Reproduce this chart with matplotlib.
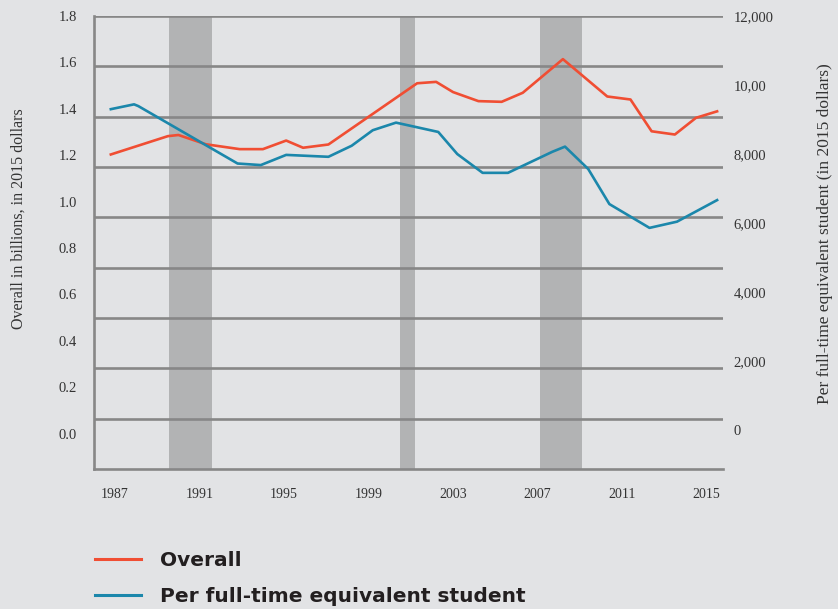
import numpy as np
import matplotlib.pyplot as plt
from matplotlib.lines import Line2D

# Valores (anos fracionários conforme a posição dos vértices)
anos_total = [1986.8, 1989.5, 1990.0, 1991.3, 1992.9, 1994.0, 1995.1, 1995.9, 1997.1,
              2001.3, 2002.2, 2003.0, 2004.2, 2005.3, 2006.3, 2008.2, 2010.3, 2011.4,
              2012.4, 2013.5, 2014.5, 2015.5]
total = [1.203, 1.282, 1.287, 1.247, 1.226, 1.226, 1.263, 1.232, 1.246,
         1.510, 1.516, 1.472, 1.433, 1.430, 1.469, 1.614, 1.453, 1.440,
         1.303, 1.289, 1.361, 1.389]

anos_aluno = [1986.8, 1987.9, 1988.1, 1992.8, 1993.9, 1995.1, 1997.1, 1998.2, 1999.2,
              2000.3, 2002.3, 2003.2, 2004.4, 2005.6, 2007.7, 2008.3, 2009.4, 2010.4,
              2012.3, 2013.6, 2015.5]
por_aluno = [9300, 9440, 9390, 7725, 7680, 7975, 7920, 8240, 8690,
             8910, 8640, 8000, 7455, 7455, 8065, 8215, 7565, 6550,
             5860, 6040, 6665]

recessoes = [(1989.55, 1991.6), (2000.5, 2001.2), (2007.1, 2009.1)]

anos_ticks = [1987, 1991, 1995, 1999, 2003, 2007, 2011, 2015]
ticks_esq = [0.0, 0.2, 0.4, 0.6, 0.8, 1.0, 1.2, 1.4, 1.6, 1.8]
ticks_dir = [0, 2000, 4000, 6000, 8000, 10000, 12000]
rotulos_dir = ['0', '2,000', '4,000', '6,000', '8,000', '10,00', '12,000']

fundo = '#e2e3e5'
cinza = '#878787'
vermelho = '#f04e33'
azul = '#1b87ab'

fig = plt.figure(figsize=(8.38, 6.09), dpi=100, facecolor=fundo)
ax = fig.add_axes([93.5/838, 1-469/609, (722.6-93.5)/838, (469-16)/609])
ax.set_facecolor(fundo)
ax2 = ax.twinx()

for a, b in recessoes:
    ax.axvspan(a, b, color='#b2b3b4', lw=0, zorder=0)

# linhas de grade (espaçadas igualmente, sem relação com os rótulos)
for k in range(1, 10):
    ax.plot([0, 1], [k/9, k/9], transform=ax.transAxes, color=cinza, lw=1.9,
            zorder=1, solid_capstyle='butt')

ax.plot(anos_total, total, color=vermelho, lw=1.9, zorder=3)
ax2.plot(anos_aluno, por_aluno, color=azul, lw=1.9, zorder=3)

ax.set_xlim(1985.98, 2015.76)
ax.set_ylim(-0.153, 1.789)
ax2.set_ylim(-1127, 11965)

ax.set_xticks(anos_ticks)
ax.set_yticks(ticks_esq)
ax.set_yticklabels([f'{v:.1f}' for v in ticks_esq])
ax2.set_yticks(ticks_dir)
ax2.set_yticklabels(rotulos_dir)

fonte = 'Liberation Serif'
ax.tick_params(axis='x', length=0, pad=14, labelsize=10, labelcolor='#333333')
ax.tick_params(axis='y', length=0, pad=12, labelsize=10.5, labelcolor='#333333')
ax2.tick_params(axis='y', length=0, pad=8, labelsize=10.5, labelcolor='#333333')
for t in ax.get_xticklabels() + ax.get_yticklabels() + ax2.get_yticklabels():
    t.set_fontfamily(fonte)

for s in ['top', 'right']:
    ax.spines[s].set_visible(False)
for s in ['top', 'right', 'left', 'bottom']:
    ax2.spines[s].set_visible(False)
ax.spines['left'].set_color(cinza)
ax.spines['bottom'].set_color(cinza)
ax.spines['left'].set_linewidth(1.9)
ax.spines['bottom'].set_linewidth(1.9)

fig.text(19/838, 1-219/609, 'Overall in billions, in 2015 dollars', rotation=90,
         ha='center', va='center', family=fonte, fontsize=11.5, color='#333333')
fig.text(825/838, 1-234/609, 'Per full-time equivalent student (in 2015 dollars)',
         rotation=90, ha='center', va='center', family=fonte, fontsize=12.5, color='#333333')

handles = [Line2D([], [], color=vermelho, lw=2.2), Line2D([], [], color=azul, lw=2.2)]
fig.legend(handles, ['Overall', 'Per full-time equivalent student'],
           loc='upper left', bbox_to_anchor=(95/838, 1-551/609), frameon=False,
           borderpad=0, borderaxespad=0, handlelength=2.3, handletextpad=0.95,
           labelspacing=0.85, prop={'family': 'DejaVu Sans', 'weight': 'bold', 'size': 14.5},
           labelcolor='#231f20')

fig.savefig('out.png', dpi=100, facecolor=fundo)
